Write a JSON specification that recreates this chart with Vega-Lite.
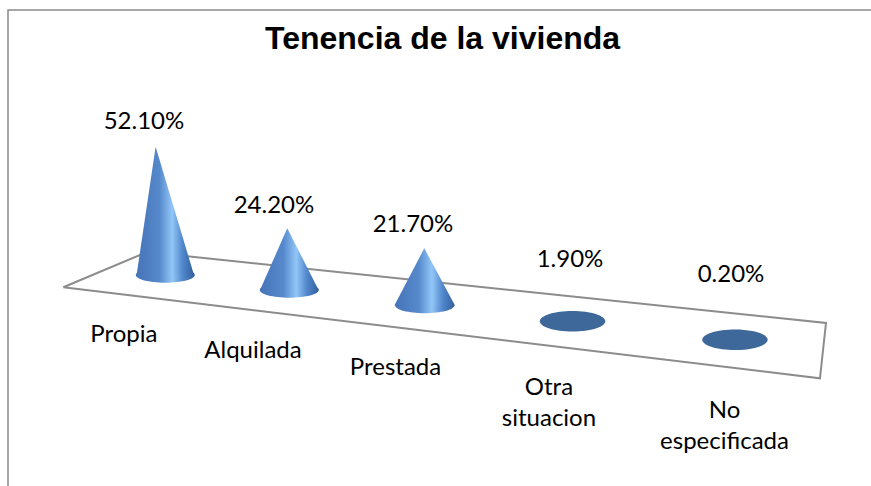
{
  "$schema": "https://vega.github.io/schema/vega-lite/v6.json",
  "width": 873,
  "height": 486,
  "autosize": {"type": "none"},
  "padding": {"left": 8, "top": 10, "right": -10, "bottom": -10},
  "background": "white",
  "config": {"view": {"stroke": "#8a8a8a", "strokeWidth": 1.5}},
  "title": {
    "text": "Tenencia de la vivienda",
    "font": "Liberation Sans",
    "fontSize": 32,
    "fontWeight": "bold",
    "color": "#000000",
    "anchor": "start",
    "frame": "group",
    "offset": -46,
    "dx": 257
  },
  "datasets": {
    "floor": [
      {"corner": "left", "order": 1, "x": 6.36, "y": 42.23},
      {"corner": "back-left", "order": 2, "x": 15.98, "y": 49.58},
      {"corner": "back-right", "order": 3, "x": 94.02, "y": 34.79},
      {"corner": "front-right", "order": 4, "x": 93.33, "y": 23.27},
      {"corner": "left", "order": 5, "x": 6.36, "y": 42.23}
    ],
    "cones": [
      {"cat": "Propia", "x": 14.78, "y": 44.79, "base": 44.79},
      {"cat": "Propia", "x": 16.97, "y": 71.52, "base": 44.79},
      {"cat": "Propia", "x": 21.38, "y": 44.79, "base": 44.79},
      {"cat": "Alquilada", "x": 28.97, "y": 41.67, "base": 41.67},
      {"cat": "Alquilada", "x": 32.10, "y": 54.52, "base": 41.67},
      {"cat": "Alquilada", "x": 35.70, "y": 41.67, "base": 41.67},
      {"cat": "Prestada", "x": 44.41, "y": 38.44, "base": 38.44},
      {"cat": "Prestada", "x": 47.85, "y": 50.35, "base": 38.44},
      {"cat": "Prestada", "x": 51.38, "y": 38.44, "base": 38.44}
    ],
    "cats": [
      {"cat": "Propia", "name": "Propia", "pct": 52.1, "label": "52.10%", "kind": "cone", "cx": 18.08, "cy": 44.79, "lx": 15.63, "ly": 75.15, "nx": 13.31, "ny": 30.90},
      {"cat": "Alquilada", "name": "Alquilada", "pct": 24.2, "label": "24.20%", "kind": "cone", "cx": 32.33, "cy": 41.67, "lx": 30.57, "ly": 57.77, "nx": 28.16, "ny": 27.44},
      {"cat": "Prestada", "name": "Prestada", "pct": 21.7, "label": "21.70%", "kind": "cone", "cx": 47.90, "cy": 38.44, "lx": 46.55, "ly": 53.69, "nx": 44.54, "ny": 23.96},
      {"cat": "Otra situacion", "name": "Otra\nsituacion", "pct": 1.9, "label": "1.90%", "kind": "flat", "cx": 64.89, "cy": 35.15, "lx": 64.60, "ly": 46.52, "nx": 62.18, "ny": 19.79},
      {"cat": "No especificada", "name": "No\nespecificada", "pct": 0.2, "label": "0.20%", "kind": "flat", "cx": 83.56, "cy": 31.31, "lx": 83.10, "ly": 43.33, "nx": 82.36, "ny": 14.94}
    ]
  },
  "layer": [
    {
      "data": {"name": "floor"},
      "mark": {"type": "line", "stroke": "#8c8c8c", "strokeWidth": 2, "interpolate": "linear"},
      "encoding": {
        "x": {"field": "x", "type": "quantitative", "scale": {"domain": [0, 100.345], "nice": false, "zero": false}, "axis": null},
        "y": {"field": "y", "type": "quantitative", "scale": {"domain": [-1.25, 100], "nice": false, "zero": false}, "axis": null},
        "order": {"field": "order", "type": "quantitative"}
      }
    },
    {
      "data": {"name": "cats"},
      "transform": [{"filter": {"field": "kind", "equal": "cone"}}],
      "mark": {
        "type": "point",
        "filled": true,
        "opacity": 1,
        "strokeWidth": 0,
        "size": 3481,
        "shape": "M -1 0 A 1 0.26 0 1 0 1 0 A 1 0.26 0 1 0 -1 0 Z",
        "fill": {"gradient": "linear", "x1": 0, "y1": 0, "x2": 1, "y2": 0, "stops": [
          {"offset": 0, "color": "#4674b8"},
          {"offset": 0.4, "color": "#5689cc"},
          {"offset": 0.62, "color": "#92c6f7"},
          {"offset": 0.8, "color": "#5187cc"},
          {"offset": 1, "color": "#33609c"}
        ]}
      },
      "encoding": {
        "x": {"field": "cx", "type": "quantitative", "scale": {"domain": [0, 100.345], "nice": false, "zero": false}, "axis": null},
        "y": {"field": "cy", "type": "quantitative", "scale": {"domain": [-1.25, 100], "nice": false, "zero": false}, "axis": null}
      }
    },
    {
      "data": {"name": "cones"},
      "mark": {
        "type": "area",
        "opacity": 1,
        "fill": {"gradient": "linear", "x1": 0, "y1": 0, "x2": 1, "y2": 0, "stops": [
          {"offset": 0, "color": "#4674b8"},
          {"offset": 0.4, "color": "#5689cc"},
          {"offset": 0.62, "color": "#92c6f7"},
          {"offset": 0.8, "color": "#5187cc"},
          {"offset": 1, "color": "#33609c"}
        ]}
      },
      "encoding": {
        "x": {"field": "x", "type": "quantitative", "scale": {"domain": [0, 100.345], "nice": false, "zero": false}, "axis": null},
        "y": {"field": "y", "type": "quantitative", "scale": {"domain": [-1.25, 100], "nice": false, "zero": false}, "axis": null},
        "y2": {"field": "base"},
        "detail": {"field": "cat", "type": "nominal"}
      }
    },
    {
      "data": {"name": "cats"},
      "transform": [{"filter": {"field": "kind", "equal": "flat"}}],
      "mark": {
        "type": "point",
        "filled": true,
        "opacity": 1,
        "strokeWidth": 0,
        "size": 4290,
        "shape": "M -1 0 A 1 0.315 0 1 0 1 0 A 1 0.315 0 1 0 -1 0 Z",
        "fill": "#3d6899"
      },
      "encoding": {
        "x": {"field": "cx", "type": "quantitative", "scale": {"domain": [0, 100.345], "nice": false, "zero": false}, "axis": null},
        "y": {"field": "cy", "type": "quantitative", "scale": {"domain": [-1.25, 100], "nice": false, "zero": false}, "axis": null}
      }
    },
    {
      "data": {"name": "cats"},
      "mark": {"type": "text", "font": "Lato", "fontSize": 24, "align": "center", "baseline": "alphabetic", "color": "#000000"},
      "encoding": {
        "x": {"field": "lx", "type": "quantitative", "scale": {"domain": [0, 100.345], "nice": false, "zero": false}, "axis": null},
        "y": {"field": "ly", "type": "quantitative", "scale": {"domain": [-1.25, 100], "nice": false, "zero": false}, "axis": null},
        "text": {"field": "label", "type": "nominal"}
      }
    },
    {
      "data": {"name": "cats"},
      "mark": {"type": "text", "font": "Lato", "fontSize": 24, "align": "center", "baseline": "alphabetic", "color": "#000000", "lineBreak": "\n", "lineHeight": 31},
      "encoding": {
        "x": {"field": "nx", "type": "quantitative", "scale": {"domain": [0, 100.345], "nice": false, "zero": false}, "axis": null},
        "y": {"field": "ny", "type": "quantitative", "scale": {"domain": [-1.25, 100], "nice": false, "zero": false}, "axis": null},
        "text": {"field": "name", "type": "nominal"}
      }
    }
  ]
}
